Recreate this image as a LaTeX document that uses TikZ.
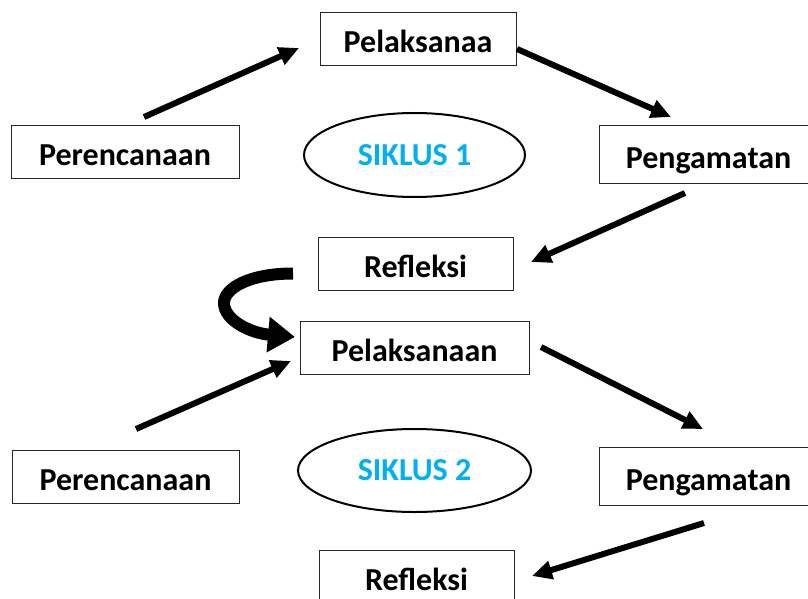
\documentclass[tikz,border=0pt]{standalone}
\usepackage{fontspec}
\setmainfont{Carlito}
\usepackage{tikz}
\usetikzlibrary{arrows.meta}
\usetikzlibrary{shapes.geometric}
\definecolor{siklusblue}{RGB}{0,176,240}
\tikzset{
  stage/.style={
    draw=black!85, line width=0.9pt, rectangle, inner sep=0pt,
    minimum height=53pt, text height=28pt, text depth=0pt,
    font=\bfseries\fontsize{32}{32}\selectfont
  },
  siklus/.style={
    draw, ellipse, line width=2pt, inner sep=0pt, text=siklusblue,
    font=\bfseries\fontsize{32}{32}\selectfont
  }
}

\begin{document}
\begin{tikzpicture}[x=1pt, y=-1pt,
% thick arrows with large triangle heads
flow/.style={line width=6pt, -{Triangle[length=20pt,width=18pt]}},
turn/.style={line width=12pt, -{Triangle[length=27pt,width=34pt]}}]
\useasboundingbox (0,0) rectangle (808,599);
% cycle 1
\node[stage, minimum width=196pt] (pel1) at (418,38.5) {Pelaksanaa};
\node[stage, minimum width=228pt] (per1) at (125,151.5) {Perencanaan};
\node[siklus, minimum width=221pt, minimum height=84pt] (sik1) at (414.5,155) {SIKLUS 1};
\node[stage, minimum width=219pt, minimum height=58pt] (pen1) at (708.5,154) {Pengamatan};
\node[stage, minimum width=195pt] (ref1) at (415.5,263.5) {Refleksi};
% cycle 2
\node[stage, minimum width=229pt] (pel2) at (414.5,347.5) {Pelaksanaan};
\node[stage, minimum width=227pt] (per2) at (125.5,476.5) {Perencanaan};
\node[siklus, minimum width=233pt, minimum height=83pt] (sik2) at (414.5,470.5) {SIKLUS 2};
\node[stage, minimum width=219pt, minimum height=58pt] (pen2) at (708.5,476) {Pengamatan};
\node[stage, minimum width=195pt] (ref2) at (416.5,576.5) {Refleksi};
% arrow ends
\coordinate (a1) at (144,117);  \coordinate (b1) at (299,48);
\coordinate (a2) at (517,49);   \coordinate (b2) at (671,117);
\coordinate (a3) at (685,193);  \coordinate (b3) at (531,262);
\coordinate (a4) at (136,429);  \coordinate (b4) at (291,361);
\coordinate (a5) at (541,347);  \coordinate (b5) at (703,429);
\coordinate (a6) at (704,523);  \coordinate (b6) at (532,576);
\coordinate (c1) at (293,273.5); \coordinate (c2) at (295,337);
% straight arrows
\foreach \i in {1, 2, ..., 6} {
    \draw[flow] (a\i) -- (b\i);
}
% bent arrow from cycle 1 to cycle 2
\draw[turn] (c1) .. controls (250,273.5) and (224,288) .. (224,303)
  .. controls (224,320) and (250,333) .. (c2);
\end{tikzpicture}
\end{document}
